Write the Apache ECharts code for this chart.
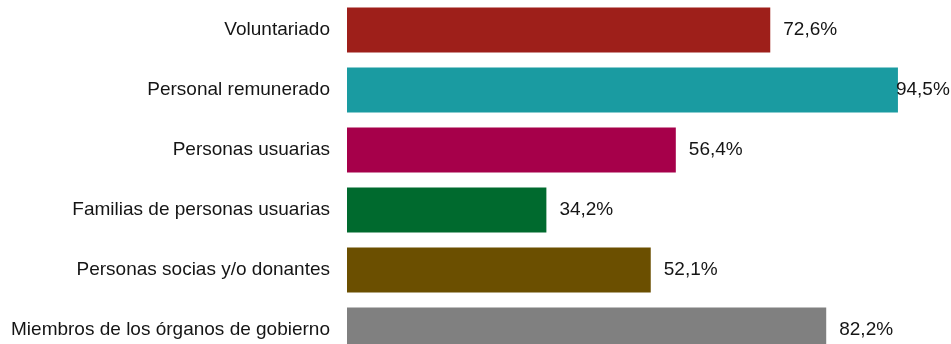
<!DOCTYPE html>
<html>
<head>
<meta charset="utf-8">
<script src="https://cdn.jsdelivr.net/npm/echarts@6/dist/echarts.min.js"></script>
<style>
  html, body { margin: 0; padding: 0; background: #fff; }
  #chart { width: 951px; height: 344px; }
</style>
</head>
<body>
<div id="chart"></div>
<script>
const categories = [
    'Voluntariado',
    'Personal remunerado',
    'Personas usuarias',
    'Familias de personas usuarias',
    'Personas socias y/o donantes',
    'Miembros de los órganos de gobierno'
];
const values = [72.6, 94.5, 56.4, 34.2, 52.1, 82.2];
const colors = ['#9e1f1a', '#1a9ba1', '#a6004a', '#006a2e', '#6b4f00', '#808080'];

const font = '"Liberation Sans Narrow", "Arial Narrow", "Liberation Sans", sans-serif';

const chart = echarts.init(document.getElementById('chart'));
const option = {
    animation: false,
    grid: { left: 347, right: 21, top: 0, height: 360, outerBoundsMode: 'none' },
    xAxis: {
        type: 'value',
        min: 0,
        max: 100,
        show: false
    },
    yAxis: {
        type: 'category',
        data: categories,
        inverse: true,
        axisLine: { show: false },
        axisTick: { show: false },
        axisLabel: {
            margin: 17,
            color: '#151515',
            fontFamily: font,
            fontSize: 19
        }
    },
    series: [
        {
            type: 'bar',
            barWidth: 45,
            data: values.map((v, i) => ({
                value: v,
                itemStyle: { color: colors[i] },
                label: { distance: v > 90 ? -2 : 13 }
            })),
            label: {
                show: true,
                position: 'right',
                color: '#151515',
                fontFamily: font,
                fontSize: 19,
                formatter: (p) => p.value.toFixed(1).replace('.', ',') + '%'
            }
        }
    ]
};
chart.setOption(option);
</script>
</body>
</html>
